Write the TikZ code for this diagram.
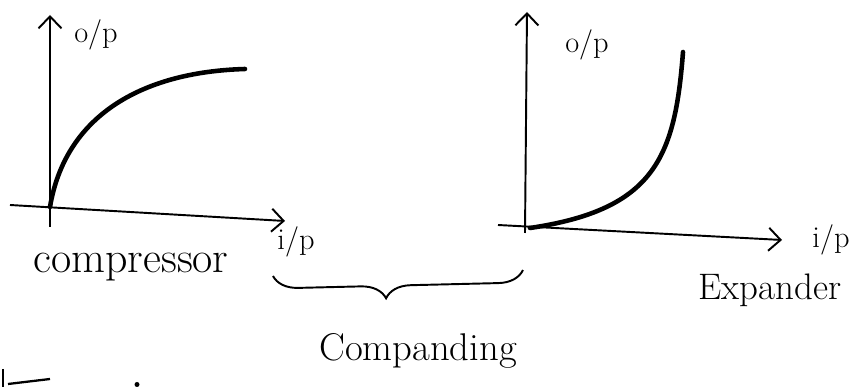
\documentclass[tikz,border=0pt]{standalone}
\usepackage{tikz}
\usetikzlibrary{arrows.meta,decorations.pathreplacing}

\begin{document}
\begin{tikzpicture}[every node/.style={font=\LARGE},
    axis/.style={line width=1.1pt, -{Straight Barb[length=2.4mm,width=4.6mm]}},
    curve/.style={line width=2.6pt, line cap=round, line join=round},
    word/.style={font=\fontsize{22}{26}\selectfont}]
      \useasboundingbox (0,0) rectangle (17.14,7.74);
      % compressor
      \coordinate (cb) at (1.00,3.20); \coordinate (ct) at (1.00,7.44);
      \coordinate (cl) at (0.20,3.64); \coordinate (cr) at (5.70,3.32);
      \coordinate (c0) at (1.00,3.60); \coordinate (c1) at (4.90,6.36);
      \draw[axis] (cb)--(ct);
      \draw[axis] (cl)--(cr);
      \draw[curve] (c0) .. controls (1.30,5.40) and (2.80,6.30) .. (c1);
      \node (cop) at (1.92,7.04) {o/p};
      \node (cip) at (5.92,2.90) {i/p};
      \node[font=\fontsize{25}{29}\selectfont] (comp) at (2.62,2.40) {compressor};
      % expander
      \coordinate (eb) at (10.50,3.08); \coordinate (et) at (10.54,7.50);
      \coordinate (el) at (9.96,3.24); \coordinate (er) at (15.64,2.94);
      \coordinate (e0) at (10.60,3.18); \coordinate (e1) at (13.66,6.70);
      \draw[axis] (eb)--(et);
      \draw[axis] (el)--(er);
      \draw[curve] (e0) .. controls (13.10,3.55) and (13.50,4.60) .. (e1);
      \node (eop) at (11.74,6.84) {o/p};
      \node (eip) at (16.62,2.94) {i/p};
      \node[font=\fontsize{21}{25}\selectfont] (expd) at (15.40,1.94) {Expander};
      % brace
      \coordinate (bl) at (5.46,2.22); \coordinate (br) at (10.46,2.34);
      \draw[line width=1.1pt, decorate, decoration={brace, mirror, amplitude=0.5cm, aspect=0.45}] (bl)--(br);
      \node[word] (cmpd) at (8.36,0.72) {Companding};
      % cut-off strokes at the bottom edge
      \draw[line width=1.3pt] (0.06,0.36)--(0.06,0);
      \draw[line width=1.3pt] (0.16,0.06)--(1.00,0.16);
      \fill (2.74,0.05) circle (0.05);
    \end{tikzpicture}
\end{document}
